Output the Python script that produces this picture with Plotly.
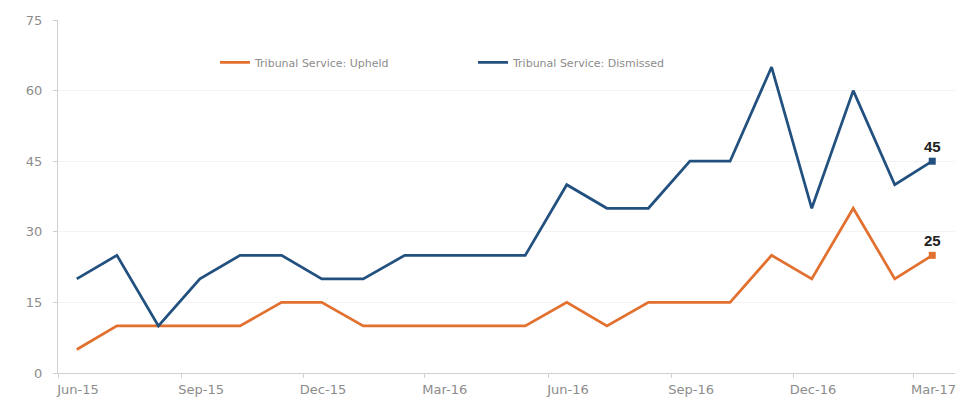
import plotly.graph_objects as go

# Monthly observations, Jun-15 to Mar-17 (plotted mid-month)
months = ["2015-06", "2015-07", "2015-08", "2015-09", "2015-10", "2015-11",
          "2015-12", "2016-01", "2016-02", "2016-03", "2016-04", "2016-05",
          "2016-06", "2016-07", "2016-08", "2016-09", "2016-10", "2016-11",
          "2016-12", "2017-01", "2017-02", "2017-03"]
upheld = [5, 10, 10, 10, 10, 15, 15, 10, 10, 10, 10, 10,
          15, 10, 15, 15, 15, 25, 20, 35, 20, 25]
dismissed = [20, 25, 10, 20, 25, 25, 20, 20, 25, 25, 25, 25,
             40, 35, 35, 45, 45, 65, 35, 60, 40, 45]
y_ticks = [0, 15, 30, 45, 60, 75]

ORANGE = "#E2702E"
BLUE = "#22507F"
GREY_TEXT = "#8c8c8c"
AXIS_GREY = "#d0d0d0"
FONT = "DejaVu Sans, Liberation Sans, Arial"

dates = [m + "-15" for m in months]

fig = go.Figure()
fig.add_trace(go.Scatter(
    x=dates, y=upheld, mode="lines", name="Tribunal Service: Upheld",
    line=dict(color=ORANGE, width=2.75)))
fig.add_trace(go.Scatter(
    x=dates, y=dismissed, mode="lines", name="Tribunal Service: Dismissed",
    line=dict(color=BLUE, width=2.75)))

# Latest-value markers with labels
for series, colour in ((upheld, ORANGE), (dismissed, BLUE)):
    fig.add_trace(go.Scatter(
        x=[dates[-1]], y=[series[-1]], mode="markers+text",
        marker=dict(symbol="square", size=7, color=colour),
        text=[f"<b>{series[-1]}</b>"], textposition="top center",
        textfont=dict(family="Liberation Sans, Arial", size=15, color="#222222"),
        showlegend=False, hoverinfo="skip"))

fig.update_layout(
    width=964, height=398,
    margin=dict(l=58, r=9, t=20, b=25),
    paper_bgcolor="white", plot_bgcolor="white",
    font=dict(family=FONT, size=12, color=GREY_TEXT),
    showlegend=True,
    legend=dict(orientation="h", x=0.175, y=0.88, xanchor="left", yanchor="middle",
                font=dict(family=FONT, size=11, color=GREY_TEXT),
                entrywidth=213, entrywidthmode="pixels", itemwidth=30,
                tracegroupgap=0, bgcolor="rgba(0,0,0,0)"),
)
fig.update_xaxes(
    type="date", range=["2015-06-01", "2017-04-01"],
    tick0="2015-06-01", dtick="M3", tickformat="%b-%y",
    ticklabelshift=20,
    showgrid=False, showline=True, linecolor=AXIS_GREY, linewidth=1,
    ticks="outside", ticklen=4, tickcolor=AXIS_GREY,
    tickfont=dict(family=FONT, size=13, color=GREY_TEXT),
    zeroline=False, automargin=False)
fig.update_yaxes(
    range=[0, 75], tickvals=y_ticks,
    showgrid=True, gridcolor="#f3f3f3", gridwidth=1,
    showline=True, linecolor=AXIS_GREY, linewidth=1,
    ticks="outside", ticklen=4, tickcolor=AXIS_GREY,
    ticklabelstandoff=8,
    tickfont=dict(family=FONT, size=13, color=GREY_TEXT),
    zeroline=False, automargin=False)

fig.write_html("out.html")
